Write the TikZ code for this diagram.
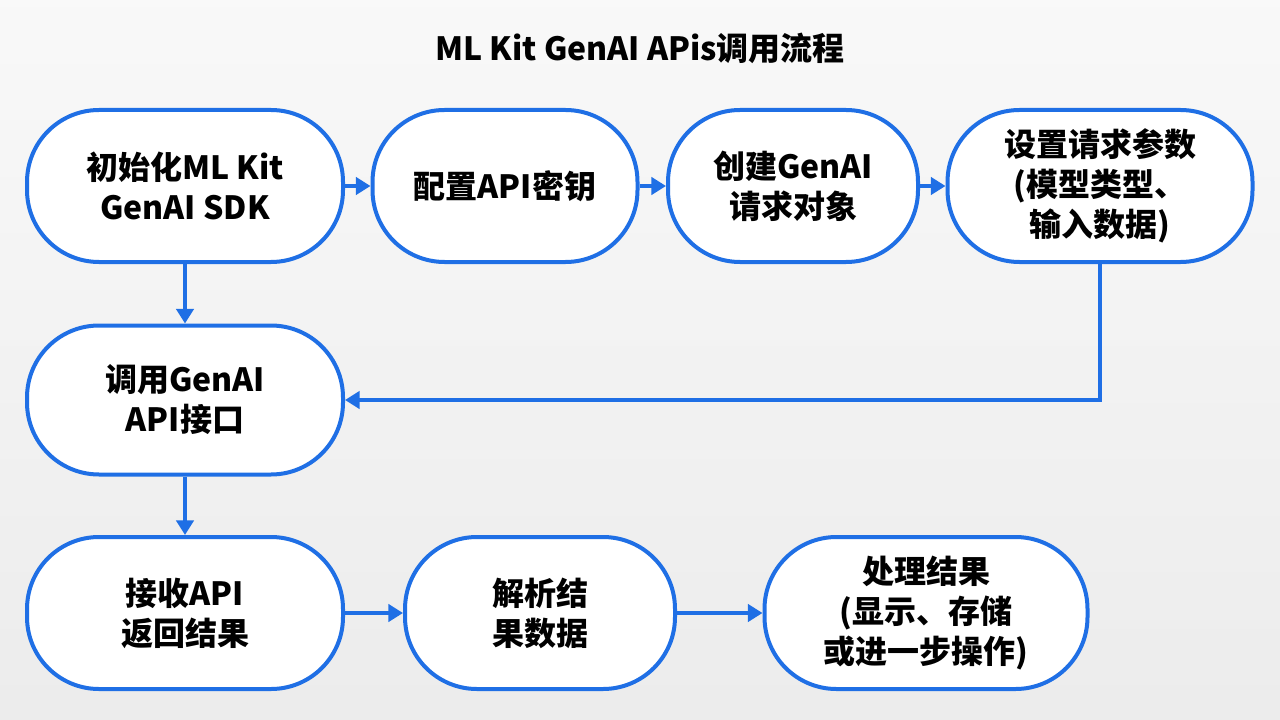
\documentclass[tikz,border=0pt]{standalone}
\usepackage{fontspec}
\setmainfont{Noto Sans CJK SC}
\usetikzlibrary{arrows.meta}
\definecolor{bl}{HTML}{1F6FE5}
\begin{document}
\begin{tikzpicture}[x=0.75pt,y=-0.75pt,
  box/.style={draw=bl,line width=3pt,fill=white,rounded corners=72*0.75pt,minimum height=152*0.75pt,align=center,font=\fontsize{24}{30}\selectfont\bfseries,inner sep=0pt},
  arr/.style={draw=bl,line width=2.6pt,-{Triangle[length=11pt,width=13pt]}}]
\shade[top color=white!50!gray!10,bottom color=gray!15] (0,0) rectangle (1280,720);
\useasboundingbox (0,0) rectangle (1280,720);
\node[font=\fontsize{24}{28}\selectfont\bfseries] (t) at (640,48) {ML Kit GenAI APis调用流程};
\node[box,minimum width=316*0.75pt] (a) at (185,186) {初始化ML Kit\\GenAI SDK};
\node[box,minimum width=265*0.75pt] (b) at (505,186) {配置API密钥};
\node[box,minimum width=250*0.75pt] (c) at (793,186) {创建GenAI\\请求对象};
\node[box,minimum width=305*0.75pt] (d) at (1100,186) {设置请求参数\\(模型类型、\\输入数据)};
\node[box,minimum width=316*0.75pt,minimum height=149*0.75pt] (e) at (185,400) {调用GenAI\\API接口};
\node[box,minimum width=316*0.75pt] (f) at (185,613) {接收API\\返回结果};
\node[box,minimum width=270*0.75pt] (g) at (540,613) {解析结\\果数据};
\node[box,minimum width=323*0.75pt] (h) at (926,613) {处理结果\\(显示、存储\\或进一步操作)};
\draw[arr] (a) -- (b);
\draw[arr] (b) -- (c);
\draw[arr] (c) -- (d);
\draw[arr] (a) -- (e);
\draw[arr] (d.south) -- (1100,400) -- (e.east);
\draw[arr] (e) -- (f);
\draw[arr] (f) -- (g);
\draw[arr] (g) -- (h);
\end{tikzpicture}
\end{document}
